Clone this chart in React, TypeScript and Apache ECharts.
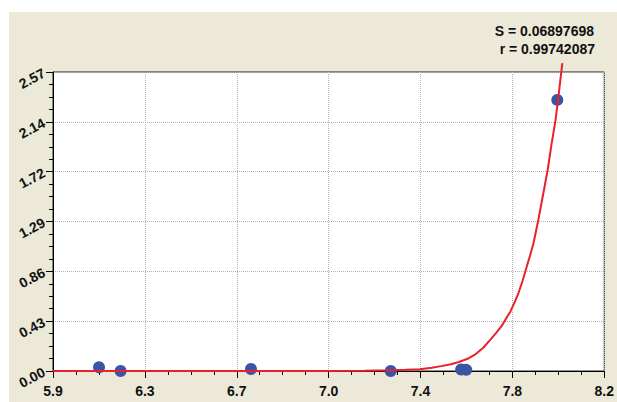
import React, { useEffect, useRef } from "react";
import * as echarts from "echarts";

const xTickLabels = ["5.9", "6.3", "6.7", "7.0", "7.4", "7.8", "8.2"];
const yTickLabels = ["0.00", "0.43", "0.86", "1.29", "1.72", "2.14", "2.57"];

const pointsX = [6.092, 6.182, 6.726, 7.309, 7.603, 7.624, 8.004];
const pointsY = [0.032, 0.0, 0.017, 0.0, 0.013, 0.01, 2.33];

const curveX = [5.9, 6.5, 7.0, 7.2, 7.3, 7.37, 7.43, 7.48, 7.52, 7.56, 7.59, 7.63, 7.66, 7.695, 7.725, 7.75, 7.773, 7.79, 7.808, 7.825, 7.842, 7.86, 7.877, 7.89, 7.905, 7.925, 7.946, 7.964, 7.98, 7.997, 8.01, 8.025];
const curveY = [0.0, 0.0, 0.001, 0.003, 0.006, 0.01, 0.016, 0.028, 0.042, 0.058, 0.075, 0.105, 0.14, 0.2, 0.27, 0.33, 0.39, 0.45, 0.51, 0.585, 0.67, 0.78, 0.9, 0.99, 1.1, 1.3, 1.53, 1.73, 1.95, 2.16, 2.38, 2.646];

const statS = "S = 0.06897698";
const statR = "r = 0.99742087";

const X_MIN = 5.9;
const X_MAX = 8.2;
const Y_MIN = 0;
const Y_MAX = 2.57;
const X_INT = (X_MAX - X_MIN) / 6;
const Y_INT = (Y_MAX - Y_MIN) / 6;

export default function App() {
  const ref = useRef<HTMLDivElement>(null);
  useEffect(() => {
    if (!ref.current) return;
    const chart = echarts.init(ref.current, undefined, { renderer: "svg" });
    const font = "'Liberation Sans', Arial, sans-serif";
    chart.setOption({
      animation: false,
      backgroundColor: "transparent",
      grid: {
        left: 53,
        top: 72,
        right: 9,
        bottom: 31,
        show: true,
        backgroundColor: "#ffffff",
        borderColor: "#222222",
        borderWidth: 1,
      },
      xAxis: {
        type: "value",
        min: X_MIN,
        max: X_MAX,
        interval: X_INT,
        axisLine: { show: true, onZero: false, lineStyle: { color: "#000", width: 1 } },
        axisTick: { show: true, length: 7, lineStyle: { color: "#000" } },
        minorTick: { show: true, splitNumber: 4, length: 4, lineStyle: { color: "#000" } },
        splitLine: { show: true, lineStyle: { color: "#b4b4b4", type: "dotted", width: 1 } },
        axisLabel: {
          show: true,
          margin: 13,
          showMinLabel: true,
          showMaxLabel: true,
          color: "#111",
          fontWeight: "bold",
          fontSize: 14,
          fontFamily: font,
          formatter: (v: number) => {
            const i = Math.round((v - X_MIN) / X_INT);
            return xTickLabels[i] ?? "";
          },
        },
      },
      yAxis: {
        type: "value",
        min: Y_MIN,
        max: Y_MAX,
        interval: Y_INT,
        axisLine: { show: true, onZero: false, lineStyle: { color: "#000", width: 1 } },
        axisTick: { show: true, length: 7, lineStyle: { color: "#000" } },
        minorTick: { show: true, splitNumber: 4, length: 4, lineStyle: { color: "#000" } },
        splitLine: { show: true, lineStyle: { color: "#b4b4b4", type: "dotted", width: 1 } },
        axisLabel: {
          show: true,
          margin: 9,
          rotate: 28,
          showMinLabel: true,
          showMaxLabel: true,
          color: "#111",
          fontWeight: "bold",
          fontSize: 14,
          fontFamily: font,
          formatter: (v: number) => {
            const i = Math.round((v - Y_MIN) / Y_INT);
            return yTickLabels[i] ?? "";
          },
        },
      },
      graphic: [
        {
          type: "text",
          x: 594,
          y: 31,
          style: {
            text: statS,
            textAlign: "right",
            textVerticalAlign: "middle",
            fill: "#111",
            font: "bold 14px " + font,
          },
        },
        {
          type: "text",
          x: 595,
          y: 49,
          style: {
            text: statR,
            textAlign: "right",
            textVerticalAlign: "middle",
            fill: "#111",
            font: "bold 14px " + font,
          },
        },
      ],
      series: [
        {
          type: "scatter",
          data: pointsX.map((x, i) => [x, pointsY[i]]),
          symbol: "circle",
          symbolSize: 12,
          itemStyle: { color: "#3a55a8", opacity: 1 },
          z: 3,
          clip: false,
        },
        {
          type: "line",
          data: curveX.map((x, i) => [x, curveY[i]]),
          showSymbol: false,
          symbol: "none",
          smooth: false,
          clip: false,
          lineStyle: { color: "#e8222a", width: 2 },
          z: 4,
        },
      ],
    });
    return () => chart.dispose();
  }, []);

  return (
    <div style={{ position: "fixed", left: 0, top: 0, width: 617, height: 402, background: "#ffffff" }}>
      <div style={{ position: "absolute", left: 9, top: 12, width: 608, height: 390, background: "#ece9d8" }} />
      <div ref={ref} style={{ position: "absolute", left: 0, top: 0, width: 617, height: 402 }} />
    </div>
  );
}
